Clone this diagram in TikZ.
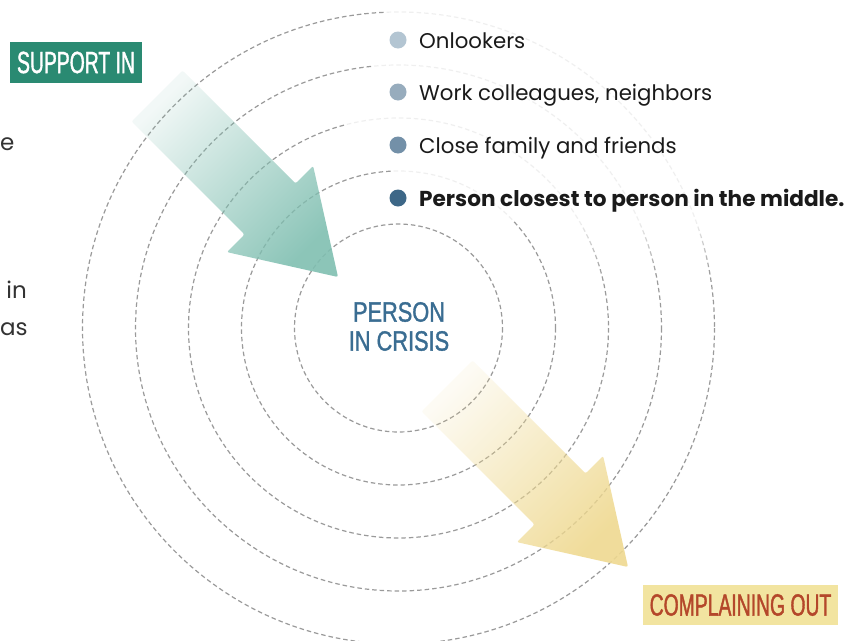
\documentclass[tikz,border=0pt]{standalone}
\usepackage{fontspec}
\setmainfont{Poppins}
\newfontfamily\condA[FakeStretch=0.63, FakeBold=1.2]{Liberation Sans}
\newfontfamily\condB[FakeStretch=0.78, FakeBold=1.2]{Liberation Sans}
\usetikzlibrary{fadings}
\definecolor{ringgray}{HTML}{9A9A9A}
\definecolor{supteal}{HTML}{2A8A72}
\definecolor{compyel}{HTML}{F2E4A0}
\definecolor{comptxt}{HTML}{B4472A}
\definecolor{crisis}{HTML}{3A6D92}
\definecolor{dotA}{HTML}{B3C5D2}
\definecolor{dotB}{HTML}{97ACBD}
\definecolor{dotC}{HTML}{7390A8}
\definecolor{dotD}{HTML}{3D6787}
\definecolor{legtxt}{HTML}{1A1A1A}
\definecolor{gB}{HTML}{80BFB1}
\definecolor{yB}{HTML}{EFD990}
\tikzfading[name=tipfade, left color=transparent!90, right color=transparent!10]
\tikzset{
  ring/.style={draw=ringgray, line width=1.2pt, dash pattern=on 4.5pt off 3pt},
  veil/.style={fill=white, fill opacity=0.85, draw=none},
  legdot/.style={circle, fill=#1, minimum size=17pt, inner sep=0pt},
  legtext/.style={anchor=base west, inner sep=0pt, text=legtxt, font=\fontsize{21.3}{25}\selectfont},
  tagbox/.style={inner sep=0pt, text centered},
  frag/.style={inner sep=0pt, text=black!80, font=\fontsize{23}{28}\selectfont},
  bigarrow/.style={fill=#1, path fading=tipfade, fading angle=-45, rounded corners=2pt},
}
\begin{document}
\begin{tikzpicture}[x=1pt,y=-1pt]
\useasboundingbox (0,0) rectangle (862,640);
\fill[white] (0,0) rectangle (862,640);
% rings
\coordinate (c) at (398.5,328);
\foreach \r in {104,157,210,263,316}{
  \draw[ring] (c) circle[radius=\r];
}
% veils behind the legend
\fill[veil] (385,0) rectangle (862,64);
\fill[veil] (372,64) rectangle (862,118);
\fill[veil] (346,118) rectangle (862,170);
\fill[veil] (393,170) rectangle (862,221);
\fill[white, path fading=south, fill opacity=0.85] (560,221) rectangle (862,275);
% arrows
\fill[bigarrow=gB]
  (182.5,70.5) -- (295.5,183.5) -- (313.1,165.9) -- (338,277) -- (226.9,252.1) -- (244.5,234.5) -- (131.5,121.5) -- cycle;
\begin{scope}[shift={(290,290)}]
\fill[bigarrow=yB]
  (182.5,70.5) -- (295.5,183.5) -- (313.1,165.9) -- (338,277) -- (226.9,252.1) -- (244.5,234.5) -- (131.5,121.5) -- cycle;
\end{scope}
% tags
\node[tagbox, fill=supteal, minimum width=132pt, minimum height=41pt, text=white] (sup) at (76,62.5)
  {\condA\fontsize{30.7}{31}\selectfont SUPPORT IN};
\node[tagbox, fill=compyel, minimum width=195pt, minimum height=40pt, text=comptxt] (comp) at (740.5,605)
  {\condA\fontsize{30.7}{31}\selectfont COMPLAINING OUT};
\node[tagbox, align=center, text=crisis, font=\condB\fontsize{27.9}{29}\selectfont] (mid) at (399,326.5)
  {PERSON\\IN CRISIS};
% legend
\node[legdot=dotA] (d1) at (398,40) {};
\node[legdot=dotB] (d2) at (398,92) {};
\node[legdot=dotC] (d3) at (398,145) {};
\node[legdot=dotD] (d4) at (398,198) {};
\node[legtext] (t1) at (419,48) {Onlookers};
\node[legtext] (t2) at (419,100) {Work colleagues, neighbors};
\node[legtext] (t3) at (419,153) {Close family and friends};
\node[legtext, font=\fontsize{21.6}{25}\selectfont\bfseries] (t4) at (419,206) {Person closest to person in the middle.};
% cut-off paragraph on the left
\node[frag, anchor=base west] (f1) at (0,150) {e};
\node[frag, anchor=base east] (f2) at (27,298) {in};
\node[frag, anchor=base west] (f3) at (0,335) {as};
\end{tikzpicture}
\end{document}
